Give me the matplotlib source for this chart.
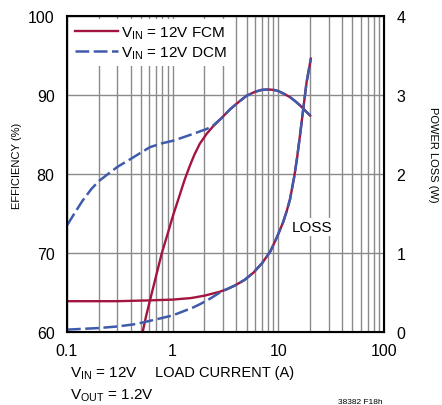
import numpy as np
import matplotlib
matplotlib.use('Agg')
import matplotlib.pyplot as plt
from matplotlib.ticker import FixedLocator, NullFormatter

plt.rcParams['font.family'] = ['Liberation Sans', 'DejaVu Sans']
plt.rcParams['mathtext.fontset'] = 'custom'
plt.rcParams['mathtext.rm'] = 'Liberation Sans'

RED = '#a3153f'
BLUE = '#3f5bab'

# efficiency, forced continuous mode
fcm_cur = [0.52, 0.56, 0.61, 0.7, 0.79, 0.9, 1.0, 1.17, 1.3, 1.45, 1.6, 1.8, 2.1, 2.4, 2.86, 3.5,
           4.2, 5, 6, 7, 8, 9, 10, 11.5, 13, 14.5, 16, 18, 20]
fcm_eff = [60, 62, 64, 67.2, 70, 72.5, 74.6, 77.4, 79.3, 81, 82.4, 83.8, 85.1, 86, 87, 88.2,
           89.1, 89.9, 90.4, 90.65, 90.7, 90.65, 90.5, 90.1, 89.7, 89.2, 88.7, 88.0, 87.4]

# efficiency, discontinuous mode
dcm_cur = [0.1, 0.12, 0.14, 0.17, 0.2, 0.25, 0.3, 0.4, 0.5, 0.61, 0.8, 1.0, 1.17, 1.5, 2.1,
           2.4, 2.86, 3.5, 4.2, 5, 6, 7, 8, 9, 10, 11.5, 13, 14.5, 16, 18, 20]
dcm_eff = [73.5, 75.2, 76.6, 78.1, 79.1, 80.1, 80.9, 81.9, 82.7, 83.4, 83.9, 84.2, 84.5, 85.0, 85.7,
           86.1, 87, 88.2, 89.1, 89.9, 90.4, 90.65, 90.7, 90.65, 90.5, 90.1, 89.7, 89.2, 88.7, 88.0, 87.4]

# power loss (W)
fcm_loss_cur = [0.1, 0.3, 0.6, 1.0, 1.5, 2.0, 2.8, 3.3, 3.9, 4.8, 5.8, 7.0, 8.4, 9.7, 11.1, 12.0,
                12.9, 14.2, 15.1, 16.0, 17.2, 18.5, 20.3]
fcm_loss = [0.39, 0.39, 0.40, 0.41, 0.43, 0.46, 0.51, 0.545, 0.59, 0.66, 0.75, 0.87, 1.02, 1.20, 1.39, 1.53,
            1.68, 1.98, 2.22, 2.48, 2.82, 3.16, 3.46]

dcm_loss_cur = [0.1, 0.2, 0.3, 0.42, 0.52, 0.7, 1.0, 1.17, 1.56, 1.8, 2.25, 2.8, 3.3, 3.9, 4.8, 5.8,
                7.0, 8.4, 9.7, 11.1, 12.0, 12.9, 14.2, 15.1, 16.0, 17.2, 18.5, 20.3]
dcm_loss = [0.03, 0.05, 0.07, 0.095, 0.12, 0.16, 0.21, 0.245, 0.31, 0.35, 0.42, 0.50, 0.545, 0.59, 0.66, 0.75,
            0.87, 1.02, 1.20, 1.39, 1.53, 1.68, 1.98, 2.22, 2.48, 2.82, 3.16, 3.46]

fig = plt.figure(figsize=(4.42, 4.06), dpi=100)
ax = fig.add_axes([67/442, 1 - 333/406, 317/442, 316/406])

ax.set_xscale('log')
ax.set_xlim(0.1, 100)
ax.set_ylim(60, 100)
minor = [m * 10.0**e for e in (-1, 0, 1) for m in range(2, 10)]
ax.xaxis.set_minor_locator(FixedLocator(minor))
ax.xaxis.set_minor_formatter(NullFormatter())
ax.set_xticks([0.1, 1, 10, 100])
ax.set_xticklabels(['0.1', '1', '10', '100'])
ax.set_yticks([60, 70, 80, 90, 100])
ax.grid(True, which='both', axis='x', color='#8a8a8a', lw=1.0)
ax.grid(True, which='major', axis='y', color='#8a8a8a', lw=1.0)
ax.tick_params(which='both', length=0, labelsize=11.5)
ax.tick_params(axis='x', pad=8)
ax.tick_params(axis='y', pad=9)
for s in ax.spines.values():
    s.set_linewidth(1.5)

ax.plot(fcm_cur, fcm_eff, color=RED, lw=1.7, label='V$_{\\mathregular{IN}}$ = 12V FCM')
ax.plot(dcm_cur, dcm_eff, color=BLUE, lw=1.8, dashes=(5.5, 1.8), label='V$_{\\mathregular{IN}}$ = 12V DCM')

leg = ax.legend(loc='upper left', bbox_to_anchor=(0.0, 1.0), fontsize=11, frameon=True,
                framealpha=1, edgecolor='none', fancybox=False, handlelength=2.8,
                handletextpad=0.2, borderpad=0.35, labelspacing=0.2, borderaxespad=0.2)

ax2 = ax.twinx()
ax2.set_ylim(0, 4)
ax2.set_yticks([0, 1, 2, 3, 4])
ax2.tick_params(length=0, labelsize=11.5, pad=9)
ax2.plot(fcm_loss_cur, fcm_loss, color=RED, lw=1.7)
ax2.plot(dcm_loss_cur, dcm_loss, color=BLUE, lw=1.8, dashes=(5.5, 1.8))
ax2.text(13.5, 1.33, 'LOSS', fontsize=11, va='center', ha='left',
         bbox=dict(facecolor='white', edgecolor='none', pad=1.5))

fig.text(17/442, 1 - 166/406, 'EFFICIENCY (%)', rotation=90, ha='center', va='center', fontsize=8)
fig.text(433/442, 1 - 155/406, 'POWER LOSS (W)', rotation=270, ha='center', va='center', fontsize=8)
fig.text(225/442, 1 - 373/406, 'LOAD CURRENT (A)', ha='center', va='center', fontsize=10.5)
fig.text(70/442, 1 - 374/406, 'V$_{\\mathregular{IN}}$ = 12V', ha='left', va='center', fontsize=11)
fig.text(70/442, 1 - 396/406, 'V$_{\\mathregular{OUT}}$ = 1.2V', ha='left', va='center', fontsize=11)
fig.text(383/442, 1 - 403/406, '38382 F18h', ha='right', va='center', fontsize=6)

fig.savefig('out.png', dpi=100)
